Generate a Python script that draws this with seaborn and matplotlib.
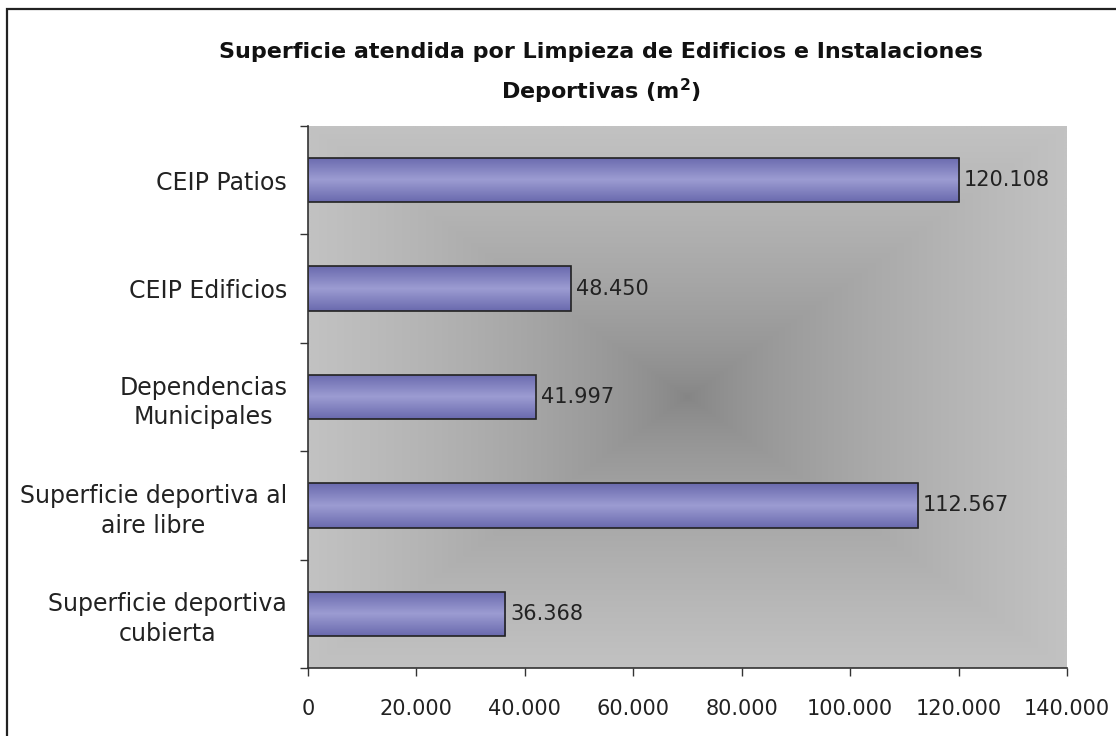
import numpy as np
import pandas as pd
import matplotlib
matplotlib.use('Agg')
import matplotlib.pyplot as plt
from matplotlib.patches import Rectangle
from matplotlib.colors import LinearSegmentedColormap
import seaborn as sns

categorias = [
    'CEIP Patios',
    'CEIP Edificios',
    'Dependencias\nMunicipales',
    'Superficie deportiva al\naire libre',
    'Superficie deportiva\ncubierta',
]
superficie = [120108, 48450, 41997, 112567, 36368]
xticks = [0, 20000, 40000, 60000, 80000, 100000, 120000, 140000]


def miles(v):
    return f'{v:,}'.replace(',', '.')


sns.set_style('white')
plt.rcParams['font.family'] = ['DejaVu Sans']

df = pd.DataFrame({'cat': categorias, 'm2': superficie})

fig = plt.figure(figsize=(11.16, 7.36), dpi=100)
ax = fig.add_axes([308 / 1116, 1 - 668 / 736, (1067 - 308) / 1116, (668 - 126) / 736])

sns.barplot(data=df, x='m2', y='cat', orient='h', color='#8888c4',
            edgecolor='#222222', linewidth=1.2, width=0.41, ax=ax, zorder=3)

ax.set_xlim(0, 140000)
ax.set_ylim(4.5, -0.5)

# fondo gris con degradado rectangular (más oscuro en el centro)
n = 400
u = np.linspace(-1, 1, n)
U, V = np.meshgrid(u, u)
t = np.maximum(np.abs(U), np.abs(V)) ** 0.7
fondo = LinearSegmentedColormap.from_list('fondo', ['#858585', '#c2c2c2'])
ax.imshow(t, cmap=fondo, extent=[0, 140000, 4.5, -0.5], aspect='auto', zorder=0,
          interpolation='bilinear')

# degradado vertical dentro de cada barra
barra = LinearSegmentedColormap.from_list('barra', ['#6a6aae', '#9c9cd2', '#6a6aae'])
grad = np.linspace(0, 1, 100).reshape(-1, 1)
for p in ax.patches:
    x0, y0 = p.get_x(), p.get_y()
    w, h = p.get_width(), p.get_height()
    im = ax.imshow(grad, cmap=barra, extent=[x0, x0 + w, y0 + h, y0], aspect='auto',
                   zorder=2, interpolation='bilinear')
    im.set_clip_path(p)
    p.set_facecolor('none')

for i, v in enumerate(superficie):
    ax.text(v + 900, i, miles(v), va='center', ha='left', fontsize=15, color='#222222', zorder=4)

ax.set_xticks(xticks)
ax.set_xticklabels([miles(v) for v in xticks], fontsize=15, color='#222222')
ax.set_yticks(range(len(categorias)))
ax.set_yticklabels(categorias, fontsize=17, color='#222222', multialignment='center',
                   linespacing=1.3)
ax.set_yticks(np.arange(-0.5, 5, 1), minor=True)
ax.tick_params(axis='y', which='major', length=0, pad=15)
ax.tick_params(axis='y', which='minor', length=6, width=1, color='#333333', direction='out', left=True)
ax.tick_params(axis='x', which='major', length=6, width=1, color='#333333', direction='out',
               bottom=True, pad=16)
ax.set_xlabel('')
ax.set_ylabel('')

for s in ['top', 'right']:
    ax.spines[s].set_visible(False)
for s in ['left', 'bottom']:
    ax.spines[s].set_color('#333333')
    ax.spines[s].set_linewidth(1.2)
    ax.spines[s].set_zorder(5)

fig.text(601 / 1116, 1 - 52 / 736, 'Superficie atendida por Limpieza de Edificios e Instalaciones',
         ha='center', va='center', fontsize=16, fontweight='bold', color='#111111')
fig.text(601 / 1116, 1 - 91 / 736, 'Deportivas (m$^\\mathbf{2}$)',
         ha='center', va='center', fontsize=16, fontweight='bold', color='#111111')

fig.patches.append(Rectangle((7 / 1116, -0.1), 1.2, 1.1 - 9 / 736, transform=fig.transFigure,
                             fill=False, edgecolor='#222222', linewidth=1.6))

fig.savefig('out.png', dpi=100)
